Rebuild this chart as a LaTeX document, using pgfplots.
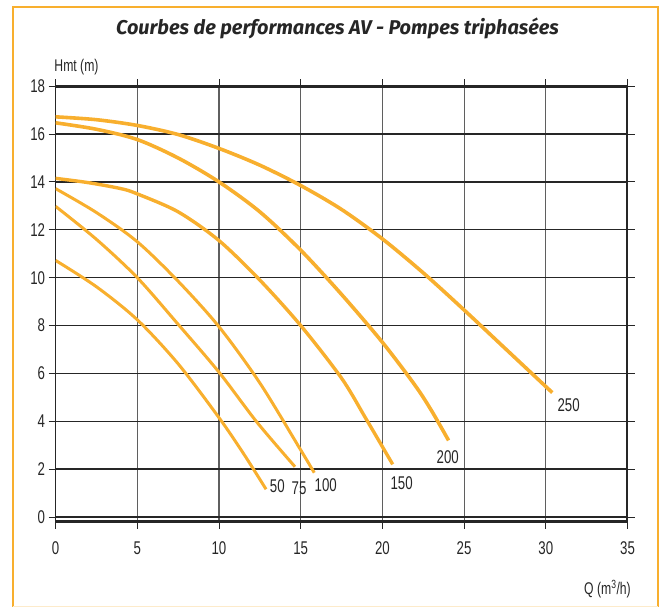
\documentclass[border=0pt]{standalone}
\usepackage{fontspec}
\setmainfont{Liberation Sans}
\newfontfamily\cond[FakeStretch=0.72]{Liberation Sans}
\newfontfamily\titlefont{Fira Sans}
\usepackage{pgfplots}
\pgfplotsset{compat=1.18}
\definecolor{pumporange}{RGB}{248,175,46}
\definecolor{gridgray}{RGB}{95,95,95}
\begin{document}
\begin{tikzpicture}
% cadre
\draw[pumporange, line width=2.2bp] (12.7bp,1.5bp) -- (12.7bp,601bp) -- (658bp,601bp) -- (658bp,1.5bp);
\draw[pumporange!25, line width=1.5bp] (12.7bp,1.5bp) -- (658bp,1.5bp);
\node[font=\titlefont\bfseries\itshape\fontsize{20}{23}\selectfont, text=black!85] at (337.5bp,580bp) {Courbes de performances AV - Pompes triphasées};
\node[font=\cond\fontsize{17}{20}\selectfont, text=black!85] at (76.5bp,541bp) {Hmt (m)};
\node[font=\cond\fontsize{17}{20}\selectfont, text=black!85] at (607.5bp,19bp) {Q (m\textsuperscript{3}/h)};
\begin{axis}[
    at={(55.6bp,86.2bp)}, anchor=south west,
    scale only axis, width=571.9bp, height=435.6bp,
    xmin=0, xmax=35, ymin=-0.2, ymax=18,
    xtick={0,5,...,35}, ytick={0,2,...,18},
    grid=major,
    major x grid style={gridgray, line width=1.1bp},
    major y grid style={black!85, line width=1.3bp},
    axis line style={black!85, line width=1.5bp},
    tick align=outside, major tick length=7bp,
    tick style={black!85, line width=1bp},
    ticklabel style={font=\cond\fontsize{18.5}{20}\selectfont, text=black!85},
    /pgf/number format/assume math mode=true,
    xticklabel style={yshift=-9bp},
    yticklabel style={xshift=0bp},
    every axis plot/.style={pumporange, smooth, line join=round},
]
% courbes H(Q) : 250, 200, 150, 100, 75, 50
\addplot[line width=3.6bp] coordinates {(0,16.72) (2.5,16.6) (5,16.36) (7.5,15.98) (10,15.4) (12.5,14.7) (15,13.85) (17.5,12.85) (20,11.62) (22.5,10.2) (25,8.65) (27.5,7.05) (30,5.45) (30.4,5.2)};
\addplot[line width=3.6bp] coordinates {(0,16.47) (2.5,16.2) (5,15.77) (7.5,15.0) (10,14.0) (12.5,12.75) (15,11.15) (17.5,9.3) (20,7.3) (22,5.5) (23,4.45) (24.05,3.2)};
\addplot[line width=3.4bp] coordinates {(0,14.15) (2,13.97) (4,13.72) (5,13.5) (7.5,12.75) (10,11.55) (12.5,9.9) (15,8.0) (17.5,5.8) (19,4.1) (20.63,2.2)};
\addplot[line width=3bp] coordinates {(0,13.72) (2.5,12.72) (5,11.5) (7.5,9.85) (10,7.95) (12.5,5.6) (15,2.8) (15.83,1.85)};
\addplot[line width=3bp] coordinates {(0,12.98) (2.5,11.6) (5,10.0) (7.5,8.05) (10,6.05) (12.3,3.98) (14.65,2.1)};
\addplot[line width=3bp] coordinates {(0,10.72) (2.5,9.62) (5,8.24) (7.5,6.4) (10,4.15) (11.5,2.65) (12.88,1.16)};
% cadre epais
\draw[black!85, line width=3bp] (rel axis cs:0,1) -- (rel axis cs:1,1);
\draw[black!85, line width=3bp] (rel axis cs:0,0) -- (rel axis cs:1,0);
\draw[black!85, line width=2.4bp] (rel axis cs:1,0) -- (rel axis cs:1,1);
% etiquettes
\begin{scope}[every node/.style={font=\cond\fontsize{18.5}{20}\selectfont, text=black!85}]
\node at (axis cs:13.57,1.31) {50};
\node at (axis cs:14.9,1.20) {75};
\node at (axis cs:16.53,1.34) {100};
\node at (axis cs:21.18,1.41) {150};
\node at (axis cs:24.0,2.52) {200};
\node at (axis cs:31.4,4.69) {250};
\end{scope}
\end{axis}
\pgfresetboundingbox
\useasboundingbox (0bp,0bp) rectangle (663bp,608bp);
\end{tikzpicture}
\end{document}
